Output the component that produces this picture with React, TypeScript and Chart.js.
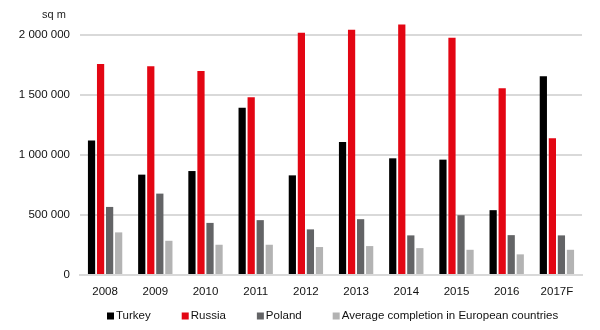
import React, { useEffect, useRef } from "react";
import { Chart, registerables } from "chart.js";

Chart.register(...registerables);

const categories = ["2008", "2009", "2010", "2011", "2012", "2013", "2014", "2015", "2016", "2017F"];
const turkey = [1120000, 836000, 866000, 1393000, 830000, 1107000, 972000, 961000, 540000, 1655000];
const russia = [1758000, 1738000, 1700000, 1481000, 2018000, 2043000, 2087000, 1977000, 1556000, 1140000];
const poland = [567000, 678000, 434000, 457000, 380000, 465000, 330000, 498000, 332000, 330000];
const average = [355000, 285000, 252000, 252000, 233000, 241000, 224000, 210000, 172000, 210000];
const yTicks = [0, 500000, 1000000, 1500000, 2000000];
const unitLabel = "sq m";

const FONT = "'Liberation Sans', Arial, sans-serif";
const FS = 11.5;

const fmt = (v: number) => String(v).replace(/\B(?=(\d{3})+(?!\d))/g, " ");

const unitPlugin = {
  id: "unitLabel",
  afterDraw(chart: any) {
    const ctx = chart.ctx;
    ctx.save();
    ctx.font = `11px ${FONT}`;
    ctx.fillStyle = "#222";
    ctx.textAlign = "center";
    ctx.textBaseline = "middle";
    ctx.fillText(unitLabel, 54, 15);
    ctx.restore();
  },
};

const legendPlugin = {
  id: "customLegend",
  afterDraw(chart: any) {
    const ctx = chart.ctx;
    ctx.save();
    ctx.font = `${FS}px ${FONT}`;
    ctx.textBaseline = "middle";
    ctx.textAlign = "left";
    let x = 107;
    const y = 316;
    chart.data.datasets.forEach((ds: any) => {
      ctx.fillStyle = ds.backgroundColor;
      ctx.fillRect(x, y - 3.5, 7, 7);
      ctx.fillStyle = "#111";
      ctx.fillText(ds.label, x + 9, y);
      x += 9 + ctx.measureText(ds.label).width + 31;
    });
    ctx.restore();
  },
};

export default function App() {
  const ref = useRef<HTMLCanvasElement | null>(null);
  useEffect(() => {
    if (!ref.current) return;
    const chart = new Chart(ref.current, {
      type: "bar",
      data: {
        labels: categories,
        datasets: [
          { label: "Turkey", data: turkey, backgroundColor: "#000000" },
          { label: "Russia", data: russia, backgroundColor: "#e30613" },
          { label: "Poland", data: poland, backgroundColor: "#636466" },
          { label: "Average completion in European countries", data: average, backgroundColor: "#b3b3b3" },
        ],
      },
      options: {
        animation: false,
        responsive: false,
        maintainAspectRatio: false,
        datasets: { bar: { barPercentage: 0.8, categoryPercentage: 0.72 } },
        layout: { padding: { top: 4, right: 18, left: 0, bottom: 30 } },
        plugins: {
          tooltip: { enabled: false },
          legend: { display: false },
        },
        scales: {
          x: {
            grid: { display: false },
            border: { display: true, color: "#d9d9d9", width: 2 },
            ticks: { color: "#111", font: { family: FONT, size: FS }, padding: 2 },
            afterFit(scale: any) {
              scale.height = 25;
            },
          },
          y: {
            min: 0,
            max: 2150000,
            afterBuildTicks(scale: any) {
              scale.ticks = yTicks.map((v) => ({ value: v }));
            },
            grid: { color: "#d9d9d9", lineWidth: 2, drawTicks: false },
            border: { display: false },
            ticks: {
              color: "#111",
              font: { family: FONT, size: FS },
              padding: 10,
              callback: (v: any) => fmt(Number(v)),
            },
            afterFit(scale: any) {
              scale.width = 80;
            },
          },
        },
      },
      plugins: [unitPlugin, legendPlugin],
    });
    return () => chart.destroy();
  }, []);
  return (
    <div style={{ position: "fixed", left: 0, top: 0, width: 600, height: 330, background: "#fff" }}>
      <canvas ref={ref} width={600} height={330} style={{ width: 600, height: 330 }} />
    </div>
  );
}
